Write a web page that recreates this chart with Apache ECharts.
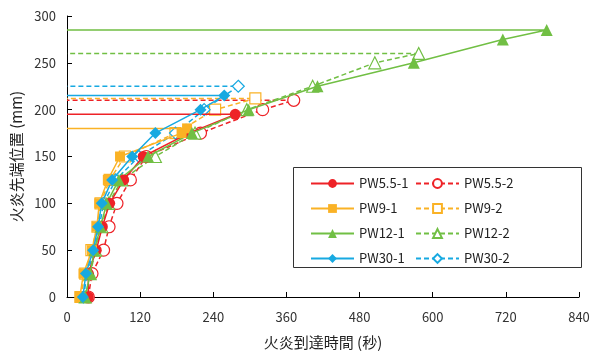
<!DOCTYPE html>
<html><head><meta charset="utf-8">
<script src="https://cdn.jsdelivr.net/npm/echarts@6/dist/echarts.min.js"></script>
<style>html,body{margin:0;padding:0;background:#fff}#c{width:598px;height:355px}</style>
</head><body><div id="c"></div>
<script>
// heights (mm) and times (s)
const h_PW55_1 = [0,25,50,75,100,125,150,175,195];
const t_PW55_1 = [35,35,48,58,70,93,125,200,276];
const h_PW55_2 = [0,25,50,75,100,125,150,175,200,210];
const t_PW55_2 = [35,41,60,69,82,104,130,219,321,372];
const h_PW9_1 = [0,25,50,75,100,125,150,175,180];
const t_PW9_1 = [21,27,41,49,53,67,87,188,197];
const h_PW9_2 = [0,25,50,75,100,125,150,175,200,212];
const t_PW9_2 = [22,30,40,50,55,70,95,178,243,309];
const h_PW12_1 = [0,25,50,75,100,125,150,175,200,225,250,275,285];
const t_PW12_1 = [30,38,45,55,65,85,133,205,298,411,569,715,787];
const h_PW12_2 = [0,25,50,75,100,125,150,175,200,225,250,260];
const t_PW12_2 = [30,38,47,57,68,90,145,210,295,403,505,577];
const h_PW30_1 = [0,25,50,75,100,125,150,175,200,215];
const t_PW30_1 = [26,31,43,51,57,74,107,145,219,258];
const h_PW30_2 = [0,25,50,75,100,125,150,175,200,225];
const t_PW30_2 = [27,33,45,53,60,80,118,178,225,281];

const xTicks = [0,120,240,360,480,600,720,840];
const yTicks = [0,50,100,150,200,250,300];

const RED='#EE2227', ORANGE='#FAB225', GREEN='#71BF44', BLUE='#17A9E1';

function build(t,h){
  const d = t.map((v,i)=>[v,h[i]]);
  d.push({value:[0,h[h.length-1]], symbol:'none'});
  return d;
}
function ser(name,t,h,color,symbol,size,open){
  return {
    name, type:'line', data:build(t,h), symbol, symbolSize:size,
    lineStyle:{color, width:1.5, type: open?[5,3]:'solid'},
    itemStyle: open ? {color:'#fff', borderColor:color, borderWidth:1.2} : {color, borderColor:color, borderWidth:0},
    z: open?2:3, animation:false
  };
}
const series = [
  ser('PW5.5-1',t_PW55_1,h_PW55_1,RED,'circle',11,false),
  ser('PW5.5-2',t_PW55_2,h_PW55_2,RED,'circle',12,true),
  ser('PW9-1',t_PW9_1,h_PW9_1,ORANGE,'rect',10,false),
  ser('PW9-2',t_PW9_2,h_PW9_2,ORANGE,'rect',11,true),
  ser('PW12-1',t_PW12_1,h_PW12_1,GREEN,'triangle',12,false),
  ser('PW12-2',t_PW12_2,h_PW12_2,GREEN,'triangle',12,true),
  ser('PW30-1',t_PW30_1,h_PW30_1,BLUE,'diamond',12,false),
  ser('PW30-2',t_PW30_2,h_PW30_2,BLUE,'diamond',12,true)
];
const FONT = '"Noto Sans CJK JP", "Noto Sans", sans-serif';
const chart = echarts.init(document.getElementById('c'),null,{renderer:'canvas'});
const legendCommon = {orient:'vertical', itemWidth:43, itemHeight:11, itemGap:12,
  textStyle:{fontSize:13, color:'#222', fontFamily:FONT}, selectedMode:false};
chart.setOption({
  animation:false,
  backgroundColor:'#fff',
  grid:{left:67, right:19, top:16, bottom:56},
  xAxis:{type:'value', min:xTicks[0], max:xTicks[xTicks.length-1], interval:120,
    name:'火炎到達時間 (秒)', nameLocation:'middle', nameGap:38,
    nameTextStyle:{fontSize:15, color:'#222', fontFamily:FONT},
    axisLine:{lineStyle:{color:'#000', width:1}},
    axisTick:{inside:true, length:5, lineStyle:{color:'#000'}},
    axisLabel:{fontSize:13, color:'#333', margin:14, fontFamily:FONT},
    splitLine:{show:false}},
  yAxis:{type:'value', min:yTicks[0], max:yTicks[yTicks.length-1], interval:50,
    name:'火炎先端位置 (mm)', nameLocation:'middle', nameGap:42,
    nameTextStyle:{fontSize:15, color:'#222', fontFamily:FONT},
    axisLine:{show:true, lineStyle:{color:'#000', width:1}},
    axisTick:{show:true, inside:true, length:5, lineStyle:{color:'#000'}},
    axisLabel:{fontSize:13, color:'#333', margin:11, fontFamily:FONT},
    splitLine:{show:false}},
  legend:[
    Object.assign({left:305, top:172, data:['PW5.5-1','PW9-1','PW12-1','PW30-1']}, legendCommon),
    Object.assign({left:410, top:172, data:['PW5.5-2','PW9-2','PW12-2','PW30-2']}, legendCommon)
  ],
  graphic:[{type:'rect', shape:{x:293.5, y:167.5, width:288, height:100}, style:{fill:null, stroke:'#333', lineWidth:1}, z:0}],
  series
});
</script></body></html>
